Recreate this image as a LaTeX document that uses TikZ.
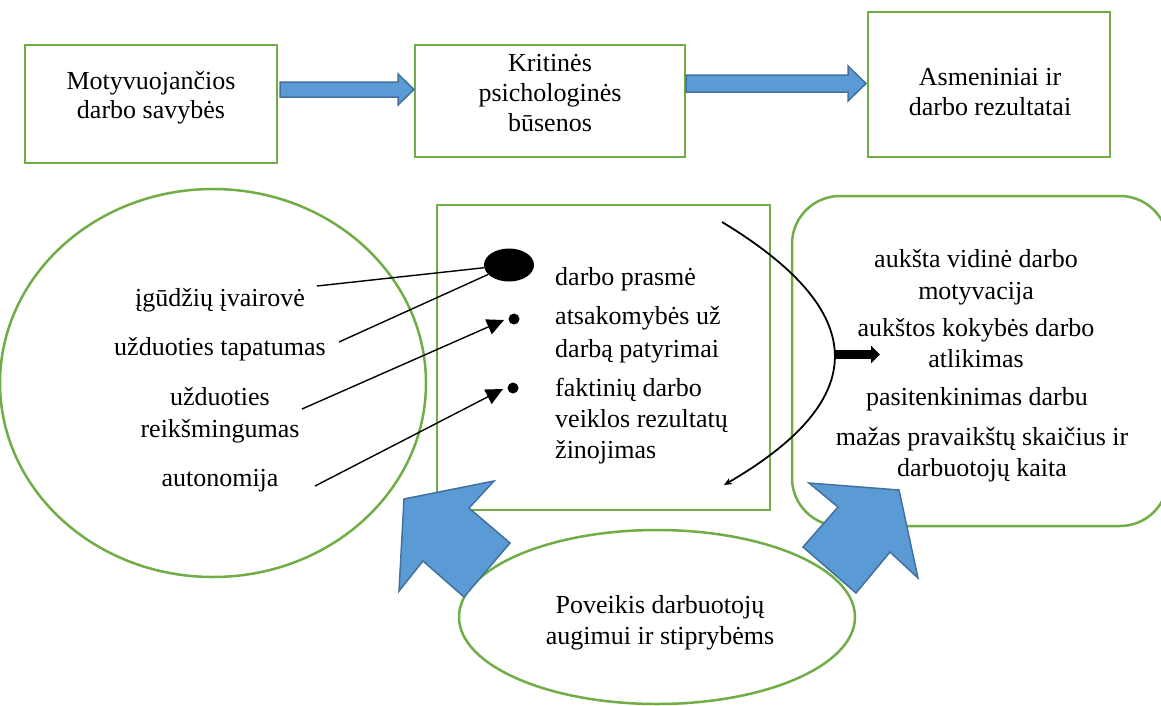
\documentclass[tikz,border=0pt]{standalone}
\usepackage{fontspec}
\setmainfont{Liberation Serif}
\usetikzlibrary{arrows.meta,shapes.geometric}
\definecolor{boxgreen}{HTML}{70AD47}
\definecolor{arrblue}{HTML}{5B9BD5}
\definecolor{arredge}{HTML}{41719C}
\begin{document}
\begin{tikzpicture}[x=1pt,y=-1pt,
  font=\fontsize{26}{31}\selectfont,
  gbox/.style={draw=boxgreen,line width=2.5pt,inner sep=0pt,outer sep=0pt},
  txt/.style={align=center,inner sep=0pt},
  ltxt/.style={align=left,anchor=west,inner sep=0pt},
  barrow/.style={fill=arrblue,draw=arredge,line width=1.5pt,line join=miter},
  conn/.style={draw=black,line width=1.4pt},
  dot/.style={circle,fill=black,inner sep=0pt,minimum size=11pt}]
\clip (0,0) rectangle (1161,705);
% top boxes
\node[gbox,minimum width=252pt,minimum height=118pt] (b1) at (151,104) {};
\node[gbox,minimum width=270pt,minimum height=112pt] (b2) at (550,101) {};
\node[gbox,minimum width=242pt,minimum height=145pt] (b3) at (989,84.5) {};
\node[txt,font=\fontsize{26}{29}\selectfont] (t1) at (151,98) {Motyvuojančios\\darbo savybės};
\node[txt,font=\fontsize{26}{30}\selectfont] (t2) at (550,93) {Kritinės\\psichologinės\\būsenos};
\node[txt,font=\fontsize{26}{30}\selectfont] (t3) at (990,92) {Asmeniniai ir\\darbo rezultatai};
% top block arrows
\draw[barrow] (280,82) -- (398,82) -- (398,74) -- (414,89.5) -- (398,105) -- (398,97) -- (280,97) -- cycle;
\draw[barrow] (686,75) -- (848,75) -- (848,66) -- (866,83.5) -- (848,101) -- (848,92) -- (686,92) -- cycle;
% left ellipse
\draw[boxgreen,line width=2.5pt] (213,383) ellipse [x radius=213pt, y radius=194pt];
\node[txt] (l1) at (220,300) {įgūdžių įvairovė};
\node[txt] (l2) at (220,349) {užduoties tapatumas};
\node[txt,font=\fontsize{26}{32}\selectfont] (l3) at (220,415) {užduoties\\reikšmingumas};
\node[txt] (l4) at (220,481) {autonomija};
% middle box
\node[gbox,minimum width=333pt,minimum height=305pt] (mb) at (603.5,357.5) {};
\node[ellipse,fill=black,minimum width=50pt,minimum height=33pt,inner sep=0pt] (e1) at (509,265) {};
\node[dot] (d1) at (514,319) {};
\node[dot] (d2) at (513,388) {};
\node[ltxt] (m1) at (555,279) {darbo prasmė};
\node[ltxt,font=\fontsize{26}{33}\selectfont] (m2) at (555,335) {atsakomybės už\\darbą patyrimai};
\node[ltxt] (m3) at (555,421) {faktinių darbo\\veiklos rezultatų\\žinojimas};
\coordinate (c1) at (317,286);
\coordinate (c2) at (339,342);
\coordinate (c3) at (302,409);
\coordinate (c4) at (315,486);
\draw[conn] (c1) -- (e1);
\draw[conn] (c2) -- (e1);
\draw[conn,-{Triangle[length=17pt,width=16pt]}] (c3) -- ([xshift=-10pt,yshift=-1pt]d1.center);
\draw[conn,-{Triangle[length=17pt,width=16pt]}] (c4) -- ([xshift=-10pt,yshift=-1pt]d2.center);
% right rounded box
\draw[boxgreen,line width=2.5pt,rounded corners=48pt] (792,196) rectangle (1168,526);
\node[txt,font=\fontsize{26}{32}\selectfont] (r1) at (976,277) {aukšta vidinė darbo\\motyvacija};
\node[txt] (r2) at (976,343) {aukštos kokybės darbo\\atlikimas};
\node[txt] (r3) at (977,399) {pasitenkinimas darbu};
\node[txt] (r4) at (982,455) {mažas pravaikštų skaičius ir\\darbuotojų kaita};
% curve and thick arrow
\coordinate (k0) at (722,222);
\coordinate (k1) at (724,485);
\coordinate (k2) at (834,354.5);
\coordinate (k3) at (880,354.5);
\draw[line width=1.8pt,-{Stealth[open,length=8pt,width=7pt]}] (k0) .. controls (871,312) and (872,399) .. (k1);
\draw[line width=9pt,-{Triangle[length=9pt,width=17pt]}] (k2) -- (k3);
% bottom ellipse
\draw[boxgreen,line width=2.5pt,fill=white] (657,617) ellipse [x radius=198pt, y radius=87pt];
\node[txt] (p1) at (660,623) {Poveikis darbuotojų\\augimui ir stiprybėms};
% big blue arrows
\draw[barrow] (404,499) -- (494,481) -- (469,508) -- (510,543) -- (464,597) -- (423,561) -- (399,591) -- cycle;
\draw[barrow] (809,483) -- (899,490) -- (918,578) -- (890,552) -- (856,593) -- (803,547) -- (838,507) -- cycle;
\end{tikzpicture}
\end{document}
